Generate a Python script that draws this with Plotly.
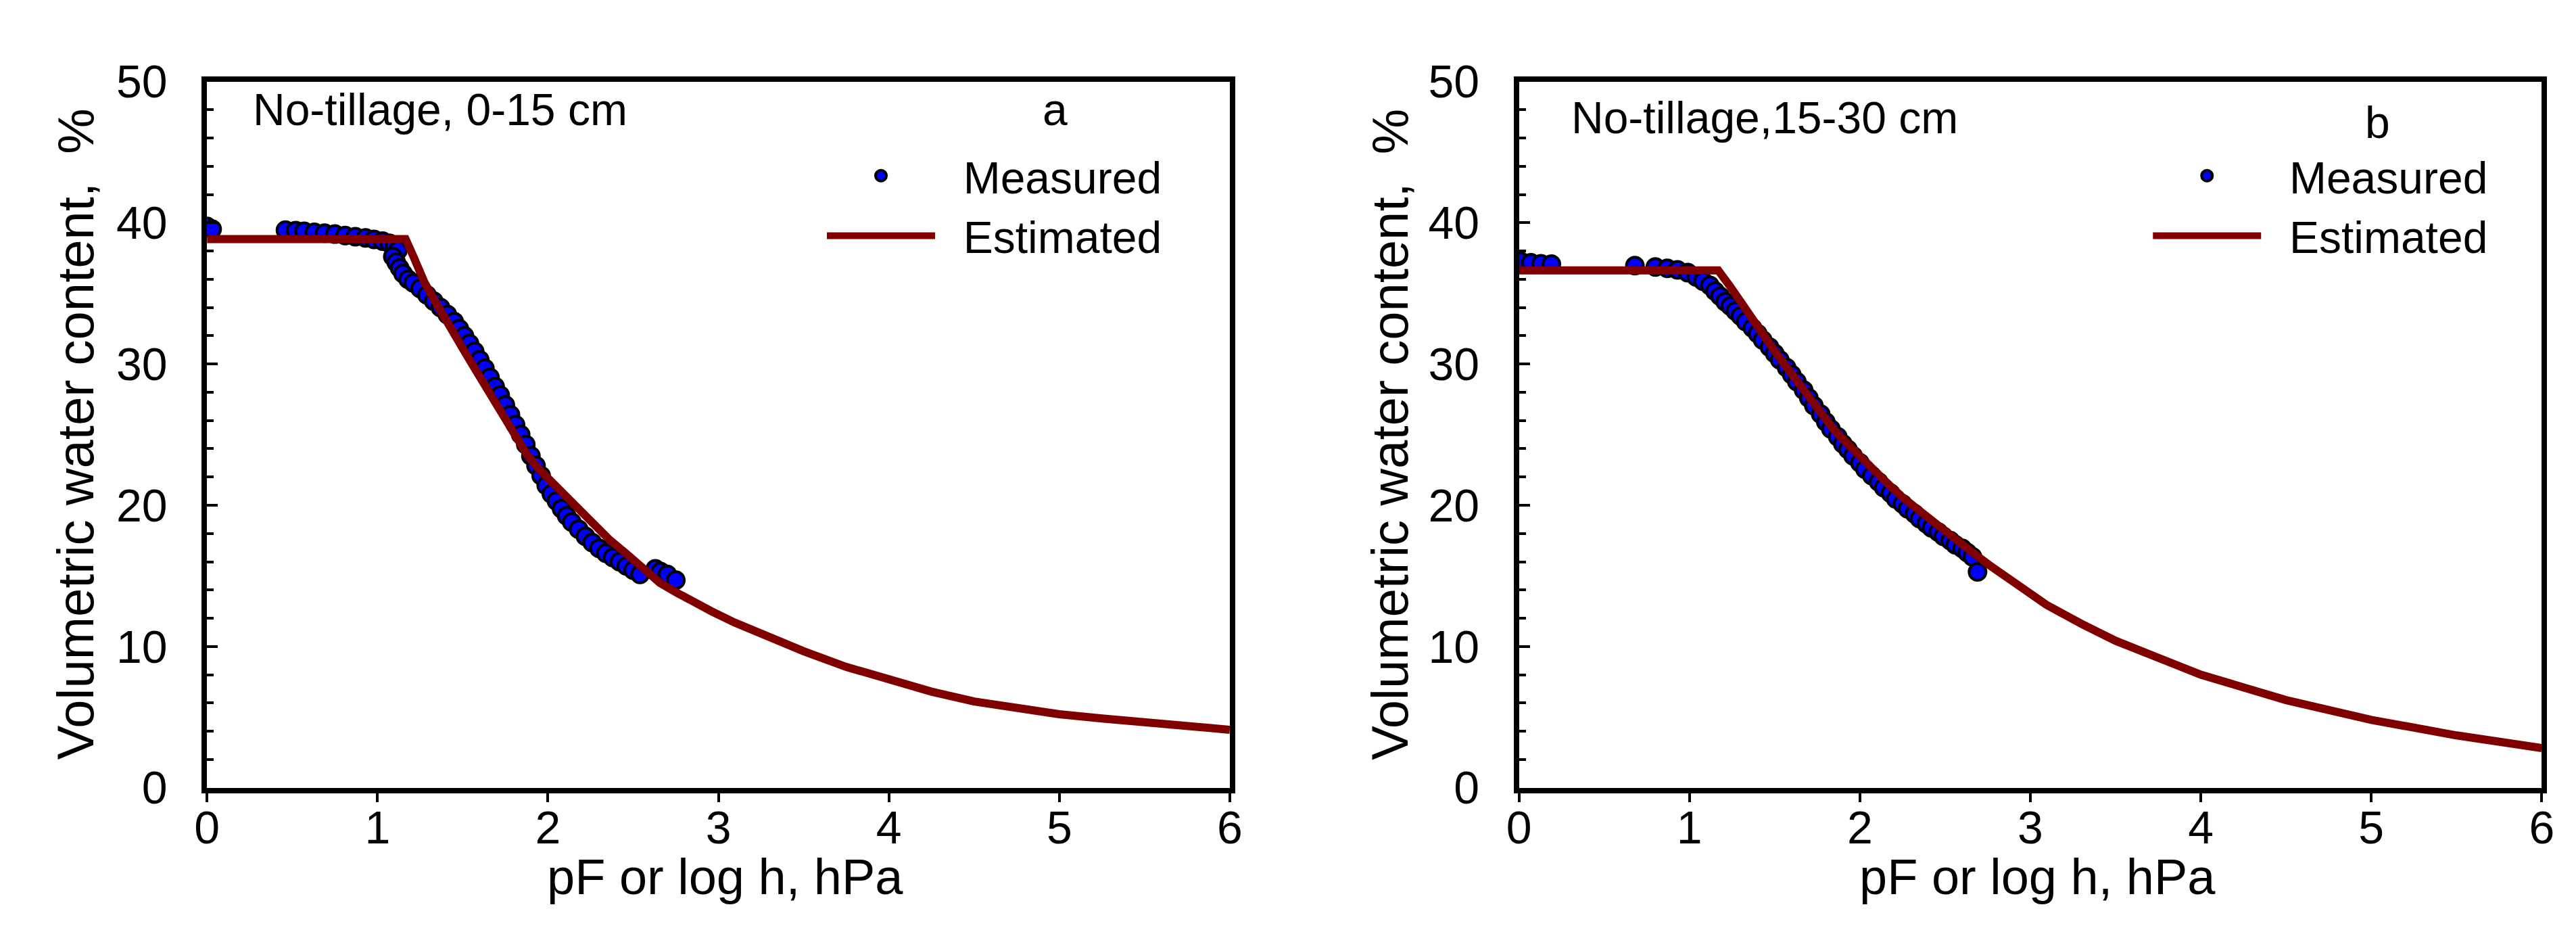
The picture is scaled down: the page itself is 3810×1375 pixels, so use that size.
import plotly.graph_objects as go

# panel a: No-tillage, 0-15 cm
pf_meas_a = [0.00, 0.03, 0.46, 0.52, 0.57, 0.63, 0.69, 0.75, 0.81, 0.87, 0.93, 0.98,
             1.03, 1.07, 1.10, 1.12, 1.09, 1.11, 1.13, 1.15, 1.18, 1.21, 1.25, 1.29,
             1.33, 1.37, 1.41, 1.45, 1.48, 1.51, 1.54, 1.57, 1.60, 1.63, 1.66, 1.69,
             1.72, 1.75, 1.78, 1.81, 1.84, 1.87, 1.90, 1.93, 1.96, 1.99, 2.02, 2.05,
             2.08, 2.11, 2.14, 2.18, 2.22, 2.26, 2.30, 2.34, 2.38, 2.42, 2.46, 2.50,
             2.54, 2.63, 2.66, 2.70, 2.75]
wc_meas_a = [39.75, 39.55, 39.48, 39.45, 39.40, 39.33, 39.27, 39.20, 39.10, 39.02, 38.93, 38.82,
             38.70, 38.55, 38.35, 38.05, 37.60, 37.20, 36.80, 36.40, 36.00, 35.75, 35.35, 34.90,
             34.45, 34.00, 33.50, 33.00, 32.50, 32.00, 31.45, 30.90, 30.30, 29.70, 29.05, 28.40,
             27.80, 27.10, 26.40, 25.70, 25.00, 24.30, 23.50, 22.80, 22.10, 21.40, 20.80, 20.30,
             19.75, 19.25, 18.80, 18.30, 17.80, 17.35, 16.95, 16.60, 16.30, 16.00, 15.70, 15.40,
             15.10, 15.50, 15.30, 15.10, 14.70]
pf_est_a = [0.0, 1.165, 1.215, 1.275, 1.335, 1.395, 1.455, 1.515, 1.575, 1.636, 1.696,
            1.756, 1.816, 1.876, 1.936, 2.016, 2.097, 2.177, 2.257, 2.357, 2.457, 2.557,
            2.657, 2.757, 2.858, 2.958, 3.094, 3.25, 3.5, 3.75, 4.0, 4.25, 4.5, 4.75,
            5.0, 5.25, 5.5, 5.75, 6.0]
wc_est_a = [38.85, 38.85, 37.5, 35.8, 34.5, 33.2, 32.0, 30.8, 29.6, 28.4, 27.2,
            26.0, 24.7, 23.6, 22.7, 21.7, 20.7, 19.7, 18.7, 17.6, 16.6, 15.5,
            14.5, 13.8, 13.1, 12.5, 11.7, 10.9, 9.66, 8.55, 7.6, 6.8, 6.1, 5.6,
            5.2, 4.9, 4.6, 4.35, 4.1]

# panel b: No-tillage, 15-30 cm
pf_meas_b = [0.01, 0.07, 0.13, 0.19, 0.68, 0.80, 0.87, 0.93, 0.99, 1.04, 1.08, 1.12,
             1.15, 1.18, 1.21, 1.24, 1.27, 1.30, 1.33, 1.37, 1.40, 1.43, 1.47, 1.50,
             1.53, 1.57, 1.60, 1.63, 1.67, 1.70, 1.73, 1.77, 1.80, 1.83, 1.87, 1.90,
             1.93, 1.96, 2.00, 2.03, 2.07, 2.11, 2.14, 2.18, 2.21, 2.25, 2.28, 2.32,
             2.35, 2.39, 2.42, 2.46, 2.49, 2.53, 2.56, 2.60, 2.63, 2.66, 2.69]
wc_meas_b = [37.27, 37.17, 37.10, 37.07, 36.97, 36.87, 36.77, 36.67, 36.47, 36.16, 35.86, 35.56,
             35.16, 34.80, 34.40, 34.10, 33.75, 33.40, 33.00, 32.55, 32.15, 31.70, 31.20, 30.75,
             30.30, 29.75, 29.25, 28.75, 28.15, 27.60, 27.05, 26.45, 25.90, 25.40, 24.85, 24.35,
             23.95, 23.50, 23.00, 22.55, 22.10, 21.65, 21.25, 20.85, 20.45, 20.10, 19.75, 19.40,
             19.05, 18.70, 18.40, 18.10, 17.80, 17.50, 17.20, 16.95, 16.65, 16.35, 15.28]
pf_est_b = [0.0, 1.169, 1.235, 1.295, 1.355, 1.415, 1.475, 1.535, 1.595, 1.656, 1.716,
            1.776, 1.836, 1.896, 1.976, 2.056, 2.156, 2.256, 2.357, 2.457, 2.557, 2.657,
            2.757, 2.857, 2.958, 3.094, 3.3, 3.5, 3.75, 4.0, 4.5, 5.0, 5.5, 6.0]
wc_est_b = [36.63, 36.63, 35.56, 34.46, 33.35, 32.35, 31.35, 30.34, 29.34, 28.33, 27.33,
            26.43, 25.52, 24.72, 23.71, 22.71, 21.61, 20.5, 19.5, 18.49, 17.59, 16.69,
            15.78, 14.95, 14.1, 12.95, 11.6, 10.4, 9.2, 8.0, 6.2, 4.8, 3.7, 2.8]

W, H = 3810, 1375
FONT = "Liberation Sans, Arial, sans-serif"


def px(x):
    return x / W


def py(y):
    return (H - y) / H


marker_style = dict(size=25, color="#0000FF", line=dict(color="black", width=4))
line_style = dict(color="#800000", width=12)
pad = "\u00a0\u00a0"

fig = go.Figure()
fig.add_trace(go.Scatter(x=pf_meas_a, y=wc_meas_a, mode="markers", name=pad + "Measured",
                         marker=marker_style, xaxis="x", yaxis="y", legend="legend"))
fig.add_trace(go.Scatter(x=pf_est_a, y=wc_est_a, mode="lines", name=pad + "Estimated",
                         line=line_style, xaxis="x", yaxis="y", legend="legend"))
fig.add_trace(go.Scatter(x=pf_meas_b, y=wc_meas_b, mode="markers", name=pad + "Measured",
                         marker=marker_style, xaxis="x2", yaxis="y2", legend="legend2"))
fig.add_trace(go.Scatter(x=pf_est_b, y=wc_est_b, mode="lines", name=pad + "Estimated",
                         line=line_style, xaxis="x2", yaxis="y2", legend="legend2"))

xax = dict(range=[0, 6], dtick=1, ticks="outside", ticklen=13, tickwidth=4,
           tickcolor="black", showline=True, linewidth=8, linecolor="black",
           mirror=True, showgrid=False, zeroline=False,
           tickfont=dict(size=68, color="black", family=FONT), ticklabelstandoff=-20)
yax = dict(range=[0, 50], dtick=10, ticks="inside", ticklen=16, tickwidth=4,
           tickcolor="black", showline=True, linewidth=8, linecolor="black",
           mirror=True, showgrid=False, zeroline=False,
           minor=dict(dtick=2, ticks="inside", ticklen=10, tickwidth=4, tickcolor="black"),
           tickfont=dict(size=68, color="black", family=FONT), ticklabelstandoff=37)

ydom = [py(1184), py(79)]
legend_style = dict(xanchor="left", yanchor="top", bgcolor="rgba(0,0,0,0)",
                    font=dict(size=66, color="black", family=FONT),
                    itemwidth=160, tracegroupgap=0)

fig.update_layout(
    width=W, height=H, autosize=False,
    margin=dict(l=0, r=0, t=0, b=0),
    paper_bgcolor="white", plot_bgcolor="white",
    font=dict(family=FONT, color="black"),
    xaxis=dict(xax, domain=[px(282), px(1810)], anchor="y"),
    yaxis=dict(yax, domain=ydom, anchor="x"),
    xaxis2=dict(xax, domain=[px(2242), px(3770)], anchor="y2"),
    yaxis2=dict(yax, domain=ydom, anchor="x2"),
    legend=dict(legend_style, x=px(1203), y=py(174)),
    legend2=dict(legend_style, x=px(3184), y=py(174)),
)

annotations = [
    # axis titles
    dict(text="pF or log h, hPa", x=px(1056), y=py(1324), size=74, angle=0),
    dict(text="pF or log h, hPa", x=px(3017), y=py(1324), size=74, angle=0),
    dict(text="Volumetric water content,\u00a0 %", x=px(85), y=py(631), size=76, angle=-90),
    dict(text="Volumetric water content,\u00a0 %", x=px(2049), y=py(631), size=76, angle=-90),
    # panel labels
    dict(text="a", x=px(1549), y=py(123), size=66, angle=0),
    dict(text="b", x=px(3525), y=py(143), size=66, angle=0),
]
for a in annotations:
    fig.add_annotation(text=a["text"], x=a["x"], y=a["y"], xref="paper", yref="paper",
                       xanchor="center", yanchor="middle", showarrow=False,
                       textangle=a["angle"],
                       font=dict(size=a["size"], color="black", family=FONT))

fig.add_annotation(text="No-tillage, 0-15 cm", x=px(348), y=py(123), xref="paper", yref="paper",
                   xanchor="left", yanchor="middle", showarrow=False,
                   font=dict(size=66, color="black", family=FONT))
fig.add_annotation(text="No-tillage,15-30 cm", x=px(2318), y=py(136), xref="paper", yref="paper",
                   xanchor="left", yanchor="middle", showarrow=False,
                   font=dict(size=66, color="black", family=FONT))

fig.write_html("out.html")
